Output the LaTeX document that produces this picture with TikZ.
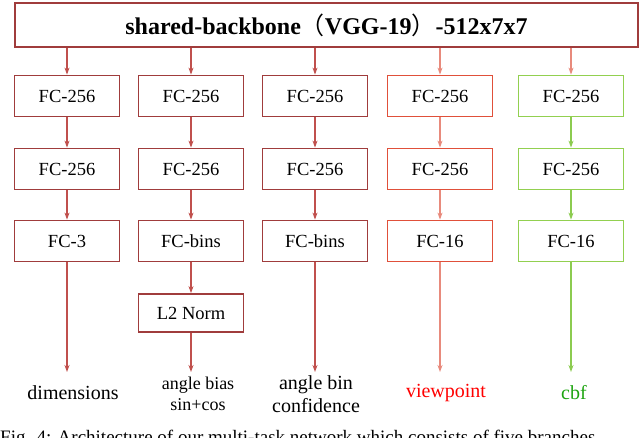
\documentclass[tikz,border=0pt]{standalone}
\usepackage{fontspec}
\setmainfont{Liberation Serif}
\newfontfamily\cjk{Noto Sans CJK SC}
\usetikzlibrary{arrows.meta}
\definecolor{dred}{HTML}{A03C3C}
\definecolor{ared}{HTML}{C0504D}
\definecolor{ored}{HTML}{E0503A}
\definecolor{oarr}{HTML}{E88A7C}
\definecolor{gbox}{HTML}{92D050}
\definecolor{garr}{HTML}{8CCB50}
\begin{document}
\begin{tikzpicture}[x=1pt,y=-1pt,
  fc/.style={draw=dred,line width=1.8pt,minimum width=105pt,minimum height=41pt,inner sep=0pt,font=\fontsize{18.5}{18}\selectfont},
  ar/.style={draw=ared,line width=1.2pt,-{Stealth[length=7pt,width=5pt]}},
  lbl/.style={font=\fontsize{20}{21}\selectfont,align=center,inner sep=0pt}]
\useasboundingbox (0,0) rectangle (640,437);
\node[draw=dred,line width=1.8pt,minimum width=623pt,minimum height=44pt,inner sep=0pt,font=\bfseries\fontsize{24}{24}\selectfont] (top) at (326.5,25) {shared-backbone{\cjk\mdseries（}VGG-19{\cjk\mdseries）}-512x7x7};
% column 1
\node[fc] (a1) at (67,96) {FC-256};
\node[fc] (a2) at (67,169) {FC-256};
\node[fc] (a3) at (67,241) {FC-3};
\node[lbl] (a4) at (73,393) {dimensions};
% column 2
\node[fc] (b1) at (191,96) {FC-256};
\node[fc] (b2) at (191,169) {FC-256};
\node[fc] (b3) at (191,241) {FC-bins};
\node[fc,minimum height=38pt] (b4) at (191,313) {L2 Norm};
\node[lbl,font=\fontsize{18}{21}\selectfont] (b5) at (198,394) {angle bias\\sin+cos};
% column 3
\node[lbl,font=\fontsize{20}{23}\selectfont] (c4) at (316,394) {angle bin\\confidence};
\node[fc] (c1) at (315,96) {FC-256};
\node[fc] (c2) at (315,169) {FC-256};
\node[fc] (c3) at (315,241) {FC-bins};
% column 4
\node[fc,draw=ored] (d1) at (440,96) {FC-256};
\node[fc,draw=ored] (d2) at (440,169) {FC-256};
\node[fc,draw=ored] (d3) at (440,241) {FC-16};
\node[lbl,text=red] (d4) at (446,393) {viewpoint};
% column 5
\node[fc,draw=gbox] (e1) at (571,96) {FC-256};
\node[fc,draw=gbox] (e2) at (571,169) {FC-256};
\node[fc,draw=gbox] (e3) at (571,241) {FC-16};
\node[lbl,text=green!60!black!80!gbox] (e4) at (574,393) {cbf};
% arrows
\foreach \c in {a,b,c}{
  \draw[ar] (top.south -| \c1) -- (\c1);
  \draw[ar] (\c1) -- (\c2);
  \draw[ar] (\c2) -- (\c3);
}
\draw[ar,draw=oarr] (top.south -| d1) -- (d1);
\draw[ar,draw=oarr] (d1) -- (d2); \draw[ar,draw=oarr] (d2) -- (d3);
\draw[ar,draw=oarr] (top.south -| e1) -- (e1);
\draw[ar,draw=garr] (e1) -- (e2); \draw[ar,draw=garr] (e2) -- (e3);
\draw[ar] (a3) -- (a3.south |- 0,372);
\draw[ar] (b3) -- (b4);
\draw[ar] (b4) -- (b4.south |- 0,372);
\draw[ar] (c3) -- (c3.south |- 0,372);
\draw[ar,draw=oarr] (d3) -- (d3.south |- 0,372);
\draw[ar,draw=garr] (e3) -- (e3.south |- 0,372);
\node[anchor=west,inner sep=0pt,font=\fontsize{19}{19}\selectfont] (cap) at (0,439) {Fig. 4: Architecture of our multi-task network which consists of five branches};
\end{tikzpicture}
\end{document}
